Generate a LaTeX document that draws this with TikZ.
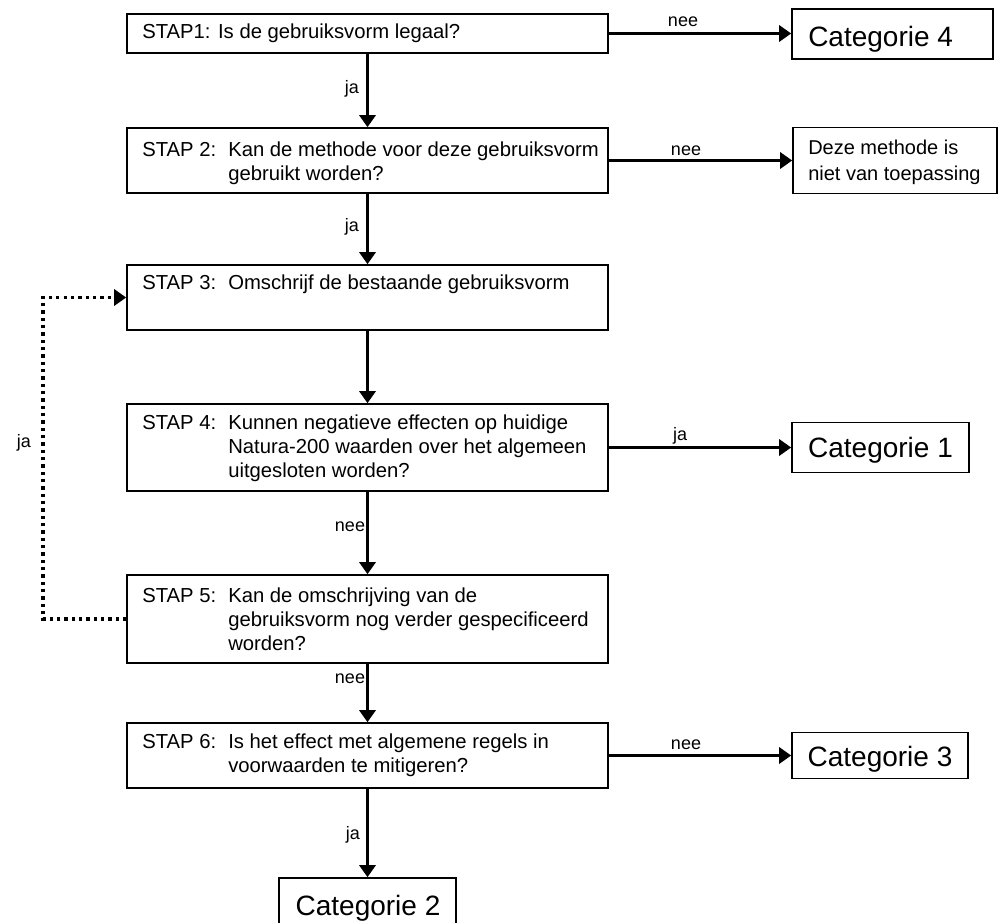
\documentclass[tikz,border=0pt]{standalone}
\usepackage{fontspec}
\setmainfont{Liberation Sans}
\usetikzlibrary{arrows.meta}
\begin{document}
\begin{tikzpicture}[x=0.75pt,y=-0.75pt,
  box/.style={draw=black, line width=1.2pt, inner sep=0pt, fill=white},
  stepbox/.style={box, minimum width=360.75pt},
  steptext/.style={anchor=west, inner sep=0pt, font=\fontsize{15.2pt}{18pt}\selectfont},
  deztext/.style={anchor=west, inner sep=0pt, align=left, font=\fontsize{15pt}{19.5pt}\selectfont},
  cattext/.style={anchor=base, inner sep=0pt, font=\fontsize{21pt}{25pt}\selectfont},
  lbl/.style={inner sep=0pt, font=\fontsize{13.5pt}{16pt}\selectfont},
  arr/.style={line width=2.4pt, -{Triangle[width=12pt,length=9pt]}},
  dotarr/.style={line width=2.4pt, dash pattern=on 2.4pt off 3.1pt, -{Triangle[width=12pt,length=9pt]}},
]
\useasboundingbox (0,0) rectangle (999,922);

% main step boxes
\node[stepbox, minimum height=29.25pt] (s1) at (367.5,33.5) {};
\node[stepbox, minimum height=48.75pt] (s2) at (367.5,160.5) {};
\node[stepbox, minimum height=48.75pt] (s3) at (367.5,297.5) {};
\node[stepbox, minimum height=65.25pt] (s4) at (367.5,447.5) {};
\node[stepbox, minimum height=66pt] (s5) at (367.5,619) {};
\node[stepbox, minimum height=48.75pt] (s6) at (367.5,755.5) {};

% step texts
\node[steptext] (t1) at (142,33) {STAP1: Is de gebruiksvorm legaal?};
\node[steptext] (t2) at (142,163.5) {\begin{tabular}{@{}p{64.5pt}@{}l@{}}STAP 2: & Kan de methode voor deze gebruiksvorm\\ & gebruikt worden?\end{tabular}};
\node[steptext] (t3) at (142,285) {\begin{tabular}{@{}p{64.5pt}@{}l@{}}STAP 3: & Omschrijf de bestaande gebruiksvorm\end{tabular}};
\node[steptext] (t4) at (142,448.5) {\begin{tabular}{@{}p{64.5pt}@{}l@{}}STAP 4: & Kunnen negatieve effecten op huidige\\ & Natura-200 waarden over het algemeen\\ & uitgesloten worden?\end{tabular}};
\node[steptext] (t5) at (142,622) {\begin{tabular}{@{}p{64.5pt}@{}l@{}}STAP 5: & Kan de omschrijving van de\\ & gebruiksvorm nog verder gespecificeerd\\ & worden?\end{tabular}};
\node[steptext] (t6) at (142,755.5) {\begin{tabular}{@{}p{64.5pt}@{}l@{}}STAP 6: & Is het effect met algemene regels in\\ & voorwaarden te mitigeren?\end{tabular}};

% outcome boxes
\node[box, minimum width=150.75pt, minimum height=37.5pt] (c4) at (892.5,34) {};
\node[box, minimum width=153pt, minimum height=49.5pt] (dz) at (895,160.5) {};
\node[box, minimum width=132.75pt, minimum height=37.5pt] (c1) at (880.5,447.5) {};
\node[box, minimum width=132pt, minimum height=34.5pt] (c3) at (880,755.5) {};
\node[box, minimum width=132.75pt, minimum height=37.5pt] (c2) at (367.5,903) {};

\node[cattext, anchor=base west] (c4t) at (808,46) {Categorie 4};
\node[deztext] (dzt) at (808,162) {Deze methode is\\niet van toepassing};
\node[cattext] (c1t) at (880.5,457) {Categorie 1};
\node[cattext] (c3t) at (880,766) {Categorie 3};
\node[cattext] (c2t) at (368,915) {Categorie 2};

% vertical arrows
\draw[arr] (s1.south) -- (s2.north);
\draw[arr] (s2.south) -- (s3.north);
\draw[arr] (s3.south) -- (s4.north);
\draw[arr] (s4.south) -- (s5.north);
\draw[arr] (s5.south) -- (s6.north);
\draw[arr] (s6.south) -- (c2.north);

% horizontal arrows
\draw[arr] (s1.east) -- (s1.east -| c4.west);
\draw[arr] (s2.east) -- (s2.east -| dz.west);
\draw[arr] (s4.east) -- (s4.east -| c1.west);
\draw[arr] (s6.east) -- (s6.east -| c3.west);

% dotted loop
\coordinate (loop) at (43,619);
\draw[dotarr] (s5.west) -- (loop) |- (s3.west);

% labels
\node[lbl] (lja1) at (352,89) {ja};
\node[lbl] (lja2) at (352,227) {ja};
\node[lbl] (lnee3) at (350,527) {nee};
\node[lbl] (lnee4) at (350,679) {nee};
\node[lbl] (lja5) at (353,835) {ja};
\node[lbl] (rnee1) at (683,22) {nee};
\node[lbl] (rnee2) at (686,151) {nee};
\node[lbl] (rja4) at (680,436) {ja};
\node[lbl] (rnee6) at (686,745) {nee};
\node[lbl] (lja6) at (24,443) {ja};
\end{tikzpicture}
\end{document}
